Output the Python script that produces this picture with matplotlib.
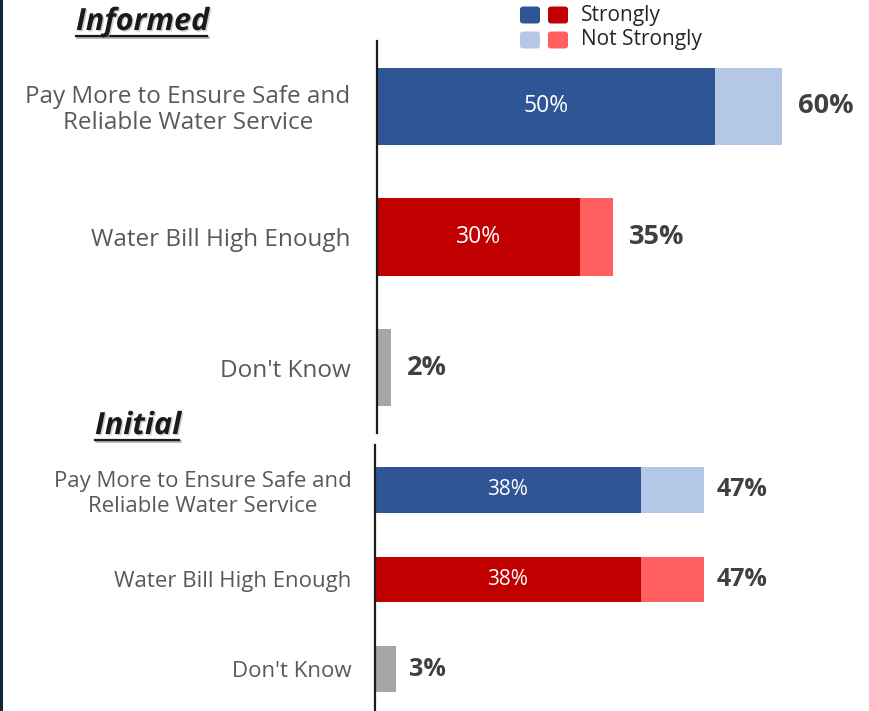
import matplotlib
matplotlib.use("Agg")
import matplotlib.pyplot as plt
import matplotlib.patheffects as pe
from matplotlib.patches import FancyBboxPatch
from matplotlib.lines import Line2D

# ---- data -------------------------------------------------------------
categories = ["Pay More to Ensure Safe and\nReliable Water Service",
              "Water Bill High Enough",
              "Don't Know"]

informed_strong = [50, 30, 2]
informed_total = [60, 35, 2]

initial_strong = [38, 38, 3]
initial_total = [47, 47, 3]

strong_colors = ["#2F5597", "#C00000", "#A6A6A6"]
weak_colors = ["#B4C7E7", "#FF5F5F", "#A6A6A6"]

legend_labels = ["Strongly", "Not Strongly"]

# ---- figure -----------------------------------------------------------
W, H = 869, 711
fig = plt.figure(figsize=(W / 100, H / 100), dpi=100)
FONT = "Open Sans"
LABEL_C = "#595959"
VALUE_C = "#404040"


def px_axes(left, top, right, bottom):
    return fig.add_axes([left / W, 1 - bottom / H, (right - left) / W, (bottom - top) / H])


def draw_panel(ax, strong, total, px_per_pct, height, cat_size, inner_size, total_size,
               pad, tick_pad, linespacing):
    width_px = ax.get_position().width * W
    ax.set_xlim(0, width_px / px_per_pct)
    n = len(categories)
    ax.set_ylim(n - 0.5, -0.5)
    y = list(range(n))
    for i in y:
        s, t = strong[i], total[i]
        ax.barh(i, s, height=height, color=strong_colors[i], linewidth=0)
        if t > s:
            ax.barh(i, t - s, left=s, height=height, color=weak_colors[i], linewidth=0)
        if i < 2:
            ax.text(s / 2, i, f"{s}%", ha="center", va="center", color="white",
                    fontsize=inner_size, family=FONT)
        ax.text(t + pad / px_per_pct, i, f"{t}%", ha="left", va="center",
                color=VALUE_C, fontsize=total_size, fontweight="bold", family=FONT)
    ax.set_yticks(y)
    ax.set_yticklabels(categories, fontsize=cat_size, color=LABEL_C, family=FONT)
    for t in ax.get_yticklabels():
        t.set_multialignment("center")
        t.set_linespacing(linespacing)
    ax.tick_params(axis="y", length=0, pad=tick_pad)
    ax.set_xticks([])
    for side in ["top", "right", "bottom"]:
        ax.spines[side].set_visible(False)
    ax.spines["left"].set_color("#1a1a1a")
    ax.spines["left"].set_linewidth(1.6)


ax_top = px_axes(377, 41, W, 433)
draw_panel(ax_top, informed_strong, informed_total, 6.75, 0.59,
           17.5, 16.5, 19.5, 16, 19, 1.12)

ax_bot = px_axes(375, 445, W, 714)
draw_panel(ax_bot, initial_strong, initial_total, 7.0, 0.51,
           16, 15, 18, 13, 17, 1.25)


# ---- section headings (bold italic, underlined, with a soft shadow) ----
def heading(text, x, y, size):
    t = fig.text(x / W, 1 - y / H, text, ha="left", va="center", fontsize=size,
                 fontweight="bold", fontstyle="italic", color="#1a1a1a", family=FONT,
                 path_effects=[pe.SimplePatchShadow(offset=(1.0, -1.0), shadow_rgbFace="#9a9a9a",
                                                    alpha=0.5), pe.Normal()])
    fig.canvas.draw()
    bb = t.get_window_extent()
    yl = bb.y0 + 1
    for off, col, lw in [((1.0, -1.0), "#aaaaaa", 1.8), ((0, 0), "#1a1a1a", 1.6)]:
        fig.add_artist(Line2D([(bb.x0 + off[0]) / W, (bb.x1 - 2 + off[0]) / W],
                              [(yl + off[1]) / H, (yl + off[1]) / H],
                              color=col, lw=lw, transform=fig.transFigure))


heading("Informed", 76, 22, 22)
heading("Initial", 95, 426, 22)

# ---- legend -----------------------------------------------------------
rows = [(strong_colors[:2], legend_labels[0], 15), (weak_colors[:2], legend_labels[1], 40)]
for cols, lab, yc in rows:
    for k, c in enumerate(cols):
        x0 = 520 + k * 28
        fig.add_artist(FancyBboxPatch(((x0) / W, 1 - (yc + 8.5) / H), 20 / W, 17 / H,
                                      boxstyle="round,pad=0,rounding_size=0.004",
                                      facecolor=c, edgecolor="none",
                                      transform=fig.transFigure))
    fig.text(581 / W, 1 - yc / H, lab, ha="left", va="center", fontsize=15,
             color="#262626", family=FONT)

# thin dark frame edge on the left
fig.add_artist(Line2D([0.0012, 0.0012], [0, 1], color="#14263a", lw=2.2,
                      transform=fig.transFigure))

fig.savefig("out.png", dpi=100)
